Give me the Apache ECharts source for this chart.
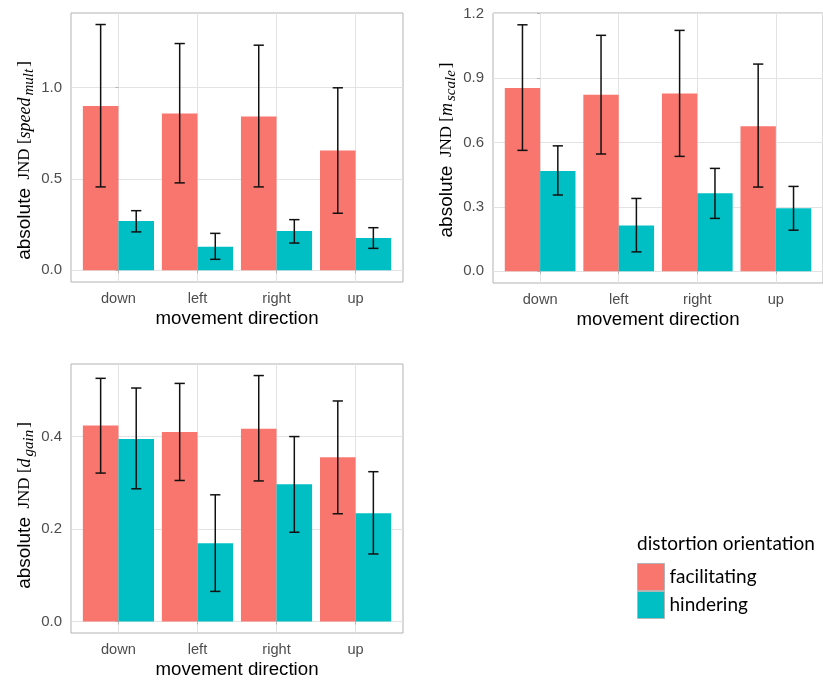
<!DOCTYPE html>
<html><head><meta charset="utf-8">
<script src="https://cdn.jsdelivr.net/npm/echarts@6/dist/echarts.min.js"></script>
<style>html,body{margin:0;padding:0;background:#fff}#c{width:823px;height:680px}</style>
</head><body><div id="c"></div>
<script>
const categories = ['down', 'left', 'right', 'up'];
const seriesNames = ['facilitating', 'hindering'];

// panel 1: speed_mult
const speedFacMean = [0.899, 0.857, 0.841, 0.655];
const speedFacLow  = [0.456, 0.478, 0.456, 0.312];
const speedFacHigh = [1.344, 1.240, 1.231, 0.998];
const speedHinMean = [0.270, 0.129, 0.215, 0.177];
const speedHinLow  = [0.210, 0.060, 0.149, 0.120];
const speedHinHigh = [0.326, 0.202, 0.277, 0.233];
const speedTicks = [0, 0.5, 1.0];
const speedMinor = [0.25, 0.75, 1.25];

// panel 2: m_scale
const scaleFacMean = [0.853, 0.822, 0.828, 0.675];
const scaleFacLow  = [0.563, 0.546, 0.535, 0.392];
const scaleFacHigh = [1.148, 1.099, 1.122, 0.965];
const scaleHinMean = [0.467, 0.213, 0.363, 0.293];
const scaleHinLow  = [0.355, 0.090, 0.246, 0.191];
const scaleHinHigh = [0.584, 0.339, 0.479, 0.395];
const scaleTicks = [0, 0.3, 0.6, 0.9, 1.2];
const scaleMinor = [0.15, 0.45, 0.75, 1.05];

// panel 3: d_gain
const gainFacMean = [0.424, 0.410, 0.417, 0.355];
const gainFacLow  = [0.321, 0.305, 0.304, 0.233];
const gainFacHigh = [0.526, 0.515, 0.532, 0.477];
const gainHinMean = [0.395, 0.169, 0.297, 0.234];
const gainHinLow  = [0.287, 0.065, 0.193, 0.146];
const gainHinHigh = [0.505, 0.274, 0.400, 0.324];
const gainTicks = [0, 0.2, 0.4];
const gainMinor = [0.1, 0.3, 0.5];

const FAC = '#F8766D', HIN = '#00BFC4';
const SANS = '"Liberation Sans", Arial, sans-serif';
const SERIF = '"Liberation Serif", "DejaVu Serif", serif';
const LEG = 'Lato, "Open Sans", sans-serif';

const grids = [
  {left: 71, top: 13, width: 332, height: 269},
  {left: 493, top: 13, width: 335, height: 270},
  {left: 71, top: 364, width: 332, height: 269}
];
const yRanges = [[-0.064, 1.407], [-0.055, 1.203], [-0.025, 0.557]];
const yNames = [
  '{a|absolute}{j|  JND [}{i|speed}{s|mult}{j|]}',
  '{a|absolute}{j|  JND [}{i|m}{s|scale}{j|]}',
  '{a|absolute}{j|  JND [}{i|d}{s|gain}{j|]}'
];
const yNamePad = [[0, 26, 0, 0], [0, 4, 0, 0], [0, 14, 0, 0]];
const majors = [speedTicks, scaleTicks, gainTicks];
const minors = [speedMinor, scaleMinor, gainMinor];

const catIdx = categories.map((c, i) => i);
const xAxes = grids.map((g, k) => ({
  type: 'value', gridIndex: k, min: -0.6, max: 3.6,
  axisLine: {show: false},
  axisTick: {show: true, customValues: catIdx, length: 3, lineStyle: {color: '#b3b3b3'}},
  axisLabel: {customValues: catIdx, formatter: v => categories[Math.round(v)], color: '#4d4d4d',
    fontSize: 14.6, fontFamily: SANS, margin: 9},
  splitLine: {show: true, lineStyle: {color: '#e3e3e3', width: 1}},
  name: 'movement direction', nameLocation: 'middle', nameGap: 27,
  nameTextStyle: {fontSize: 18.7, fontFamily: SANS, color: '#000'}
}));
const rich = {
  a: {fontSize: 19, fontFamily: SANS, color: '#000', verticalAlign: 'middle', lineHeight: 24},
  j: {fontSize: 17, fontFamily: SERIF, color: '#000', verticalAlign: 'middle', lineHeight: 24},
  i: {fontSize: 18, fontFamily: SERIF, fontStyle: 'italic', color: '#000', verticalAlign: 'middle', lineHeight: 24},
  s: {fontSize: 15, fontFamily: SERIF, fontStyle: 'italic', color: '#000', verticalAlign: 'bottom', lineHeight: 15,
      padding: [0, 2, 0, 2]}
};
const yAxes = [];
grids.forEach((g, k) => {
  yAxes.push({
    type: 'value', gridIndex: k, min: yRanges[k][0], max: yRanges[k][1],
    axisLine: {show: false},
    axisTick: {show: true, customValues: majors[k], length: 3, lineStyle: {color: '#b3b3b3'}},
    axisLabel: {customValues: majors[k], formatter: v => v.toFixed(1), color: '#4d4d4d',
      fontSize: 15, fontFamily: SANS, margin: 9},
    splitLine: {show: true, lineStyle: {color: '#e3e3e3', width: 1}},
    name: yNames[k], nameLocation: 'middle', nameGap: 34,
    nameTextStyle: {rich: rich, padding: yNamePad[k]}
  });
  yAxes.push({
    type: 'value', gridIndex: k, min: yRanges[k][0], max: yRanges[k][1], position: 'right', z: -1,
    axisLine: {show: false},
    axisTick: {show: false, customValues: minors[k]},
    axisLabel: {show: false, customValues: minors[k]},
    splitLine: {show: true, lineStyle: {color: '#f3f3f3', width: 1}}
  });
});

function barRender(side) {
  return function (params, api) {
    const i = api.value(0), v = api.value(1);
    const top = api.coord([i, v]), base = api.coord([i, 0]);
    const band = api.size([1, 0])[0];
    const w = band * 0.45;
    const x = side < 0 ? top[0] - w : top[0];
    return {type: 'rect', shape: {x: x, y: top[1], width: w, height: base[1] - top[1]},
      style: {fill: api.visual('color')}};
  };
}
function errRender(side) {
  return function (params, api) {
    const i = api.value(0);
    const lo = api.coord([i, api.value(2)]), hi = api.coord([i, api.value(3)]);
    const band = api.size([1, 0])[0];
    const w = band * 0.45;
    const cx = lo[0] + side * w / 2;
    const cap = band * 0.065;
    const st = {stroke: '#111', lineWidth: 1.5};
    return {type: 'group', children: [
      {type: 'line', shape: {x1: cx, y1: lo[1], x2: cx, y2: hi[1]}, style: st},
      {type: 'line', shape: {x1: cx - cap, y1: lo[1], x2: cx + cap, y2: lo[1]}, style: st},
      {type: 'line', shape: {x1: cx - cap, y1: hi[1], x2: cx + cap, y2: hi[1]}, style: st}
    ]};
  };
}
const panels = [
  [speedFacMean, speedFacLow, speedFacHigh, speedHinMean, speedHinLow, speedHinHigh],
  [scaleFacMean, scaleFacLow, scaleFacHigh, scaleHinMean, scaleHinLow, scaleHinHigh],
  [gainFacMean, gainFacLow, gainFacHigh, gainHinMean, gainHinLow, gainHinHigh]
];
const series = [];
panels.forEach((p, k) => {
  [[0, -1, FAC], [1, 1, HIN]].forEach(([s, side, color]) => {
    const mean = p[s * 3], low = p[s * 3 + 1], high = p[s * 3 + 2];
    const data = categories.map((c, i) => [i, mean[i], low[i], high[i]]);
    series.push({type: 'custom', name: seriesNames[s], xAxisIndex: k, yAxisIndex: k * 2,
      itemStyle: {color: color}, renderItem: barRender(side), data: data,
      encode: {x: 0, y: 1}, silent: true, z: 2});
  });
  [[0, -1], [1, 1]].forEach(([s, side]) => {
    const mean = p[s * 3], low = p[s * 3 + 1], high = p[s * 3 + 2];
    const data = categories.map((c, i) => [i, mean[i], low[i], high[i]]);
    series.push({type: 'custom', name: 'err' + k + s, xAxisIndex: k, yAxisIndex: k * 2,
      renderItem: errRender(side), data: data, encode: {x: 0, y: [2, 3]}, silent: true, z: 3});
  });
});

const chart = echarts.init(document.getElementById('c'), null, {renderer: 'canvas'});
chart.setOption({
  animation: false,
  backgroundColor: '#fff',
  title: {text: 'distortion orientation', left: 637, top: 534, padding: 0,
    textStyle: {fontSize: 19, fontWeight: 'normal', fontFamily: LEG, color: '#000'}},
  legend: {data: seriesNames, orient: 'vertical', left: 637, top: 563, itemWidth: 27, itemHeight: 27,
    itemGap: 0, icon: 'rect', padding: 0,
    itemStyle: {borderColor: '#b3b3b3', borderWidth: 1},
    textStyle: {fontSize: 19, fontFamily: LEG, color: '#000'}},
  grid: grids.map(g => Object.assign({show: true, borderColor: '#b3b3b3', borderWidth: 1,
    backgroundColor: '#fff', containLabel: false}, g)),
  xAxis: xAxes,
  yAxis: yAxes,
  series: series
});
</script></body></html>
